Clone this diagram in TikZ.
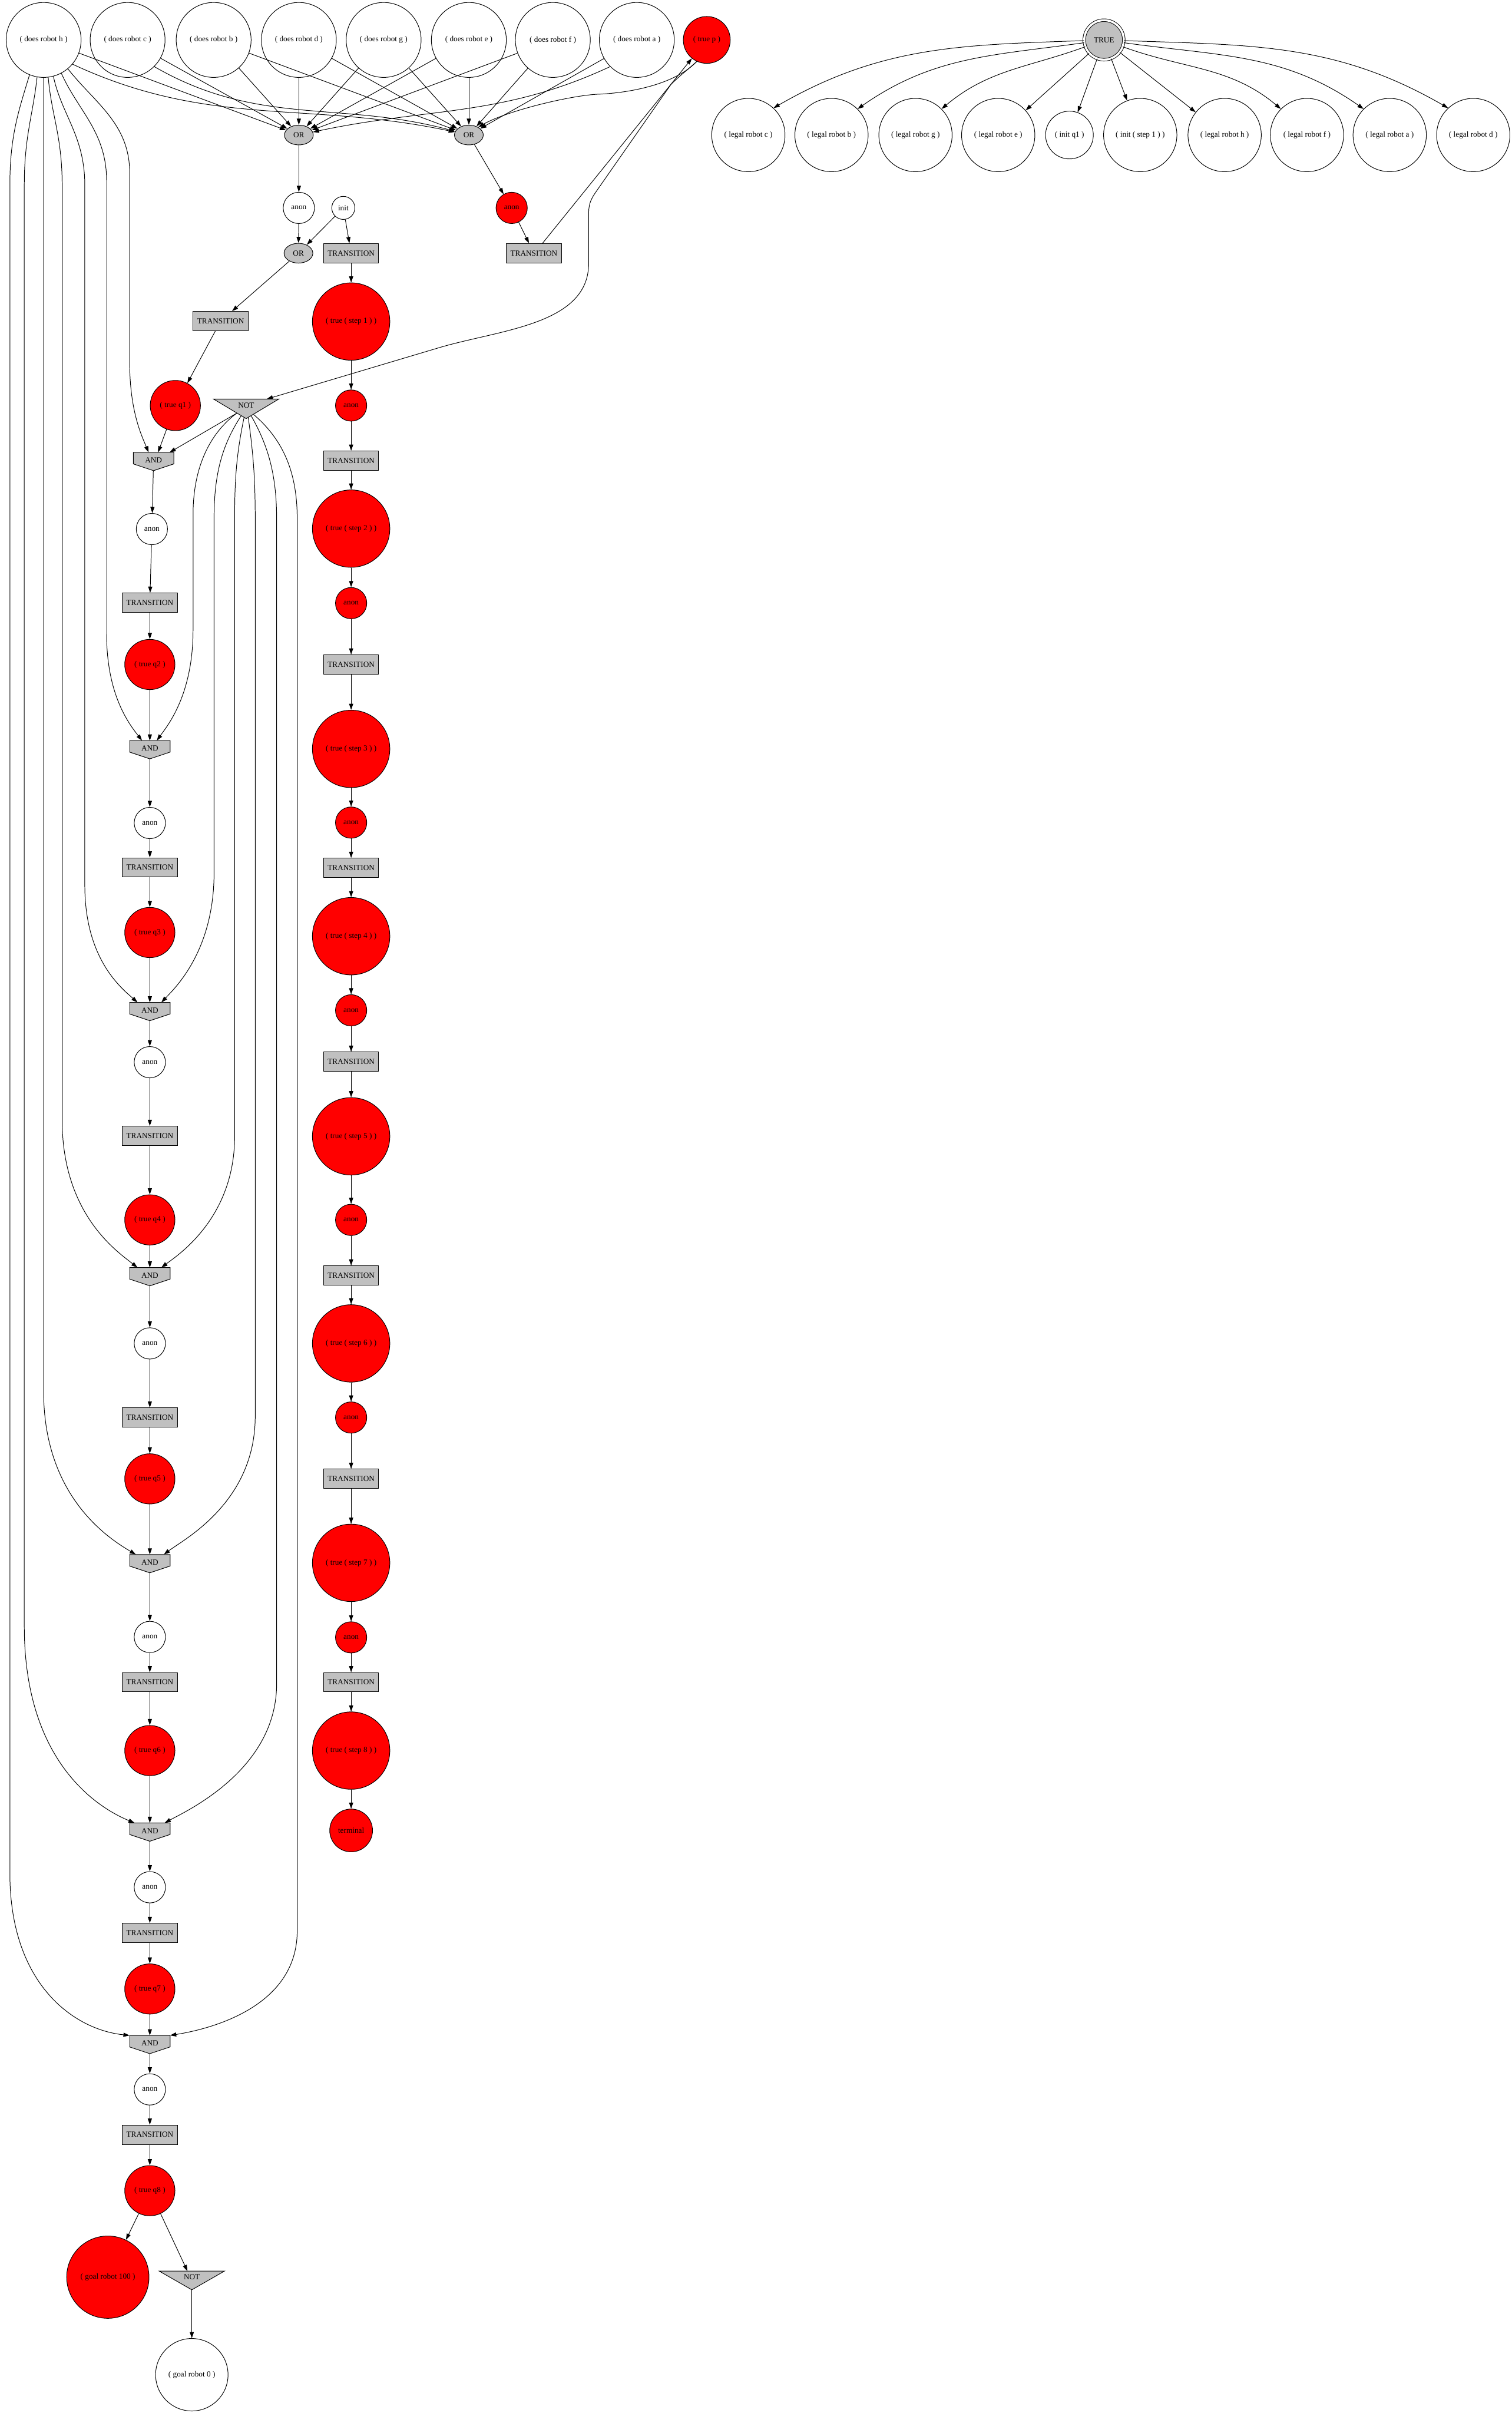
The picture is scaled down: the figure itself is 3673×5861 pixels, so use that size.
\documentclass[tikz,border=0pt]{standalone}
\usepackage{fontspec}
\setmainfont{Liberation Serif}
\usetikzlibrary{arrows.meta,calc,backgrounds,shapes.geometric}
\definecolor{gv}{RGB}{192,192,192}
\begin{document}
\begin{tikzpicture}[x=0.1mm,y=0.1mm, font=\fontsize{5.4}{6}\selectfont,
  nd/.style={draw, line width=0.4pt, inner sep=0pt},
  wc/.style={nd, circle, fill=white},
  rc/.style={nd, circle, fill=red},
  doesn/.style={wc, minimum size=18.2mm},
  legaln/.style={wc, minimum size=17.8mm},
  stepn/.style={rc, minimum size=18.8mm},
  qnode/.style={rc, minimum size=12.2mm},
  anonw/.style={wc, minimum size=7.6mm},
  anonr/.style={rc, minimum size=7.6mm},
  orn/.style={nd, ellipse, fill=gv, minimum width=7mm, minimum height=4.8mm},
  transn/.style={nd, rectangle, fill=gv, minimum width=13.4mm, minimum height=4.7mm},
  andn/.style={rectangle, inner sep=0pt, minimum width=9.7mm, minimum height=4.3mm},
  notn/.style={rectangle, inner sep=0pt, minimum width=15.7mm, minimum height=4.6mm},
  conn/.style={draw, line width=0.4pt, -{Triangle[length=1.5mm,width=1mm]}},
]
\useasboundingbox (0,0) rectangle (3673,-5861);

% top row
\node[doesn] (dh) at (106,-97) {( does robot h )};
\node[doesn] (dc) at (310,-97) {( does robot c )};
\node[doesn] (db) at (519,-97) {( does robot b )};
\node[doesn] (dd) at (726,-97) {( does robot d )};
\node[doesn] (dg) at (932,-97) {( does robot g )};
\node[doesn] (de) at (1139,-97) {( does robot e )};
\node[doesn] (df) at (1343,-97) {( does robot f )};
\node[doesn] (da) at (1547,-97) {( does robot a )};
\node[rc, minimum size=11.4mm] (truep) at (1717,-97) {( true p )};
\node[nd, circle, fill=gv, minimum size=9.6mm, double, double distance=0.5mm] (TRUE) at (2682,-97) {TRUE};

% legal row
\node[legaln] (lc) at (1818,-328) {( legal robot c )};
\node[legaln] (lb) at (2020,-328) {( legal robot b )};
\node[legaln] (lg) at (2224,-328) {( legal robot g )};
\node[legaln] (le) at (2425,-328) {( legal robot e )};
\node[wc, minimum size=11.6mm] (iq1) at (2598,-328) {( init q1 )};
\node[legaln] (is1) at (2770,-328) {( init ( step 1 ) )};
\node[legaln] (lh) at (2975,-328) {( legal robot h )};
\node[legaln] (lf) at (3175,-328) {( legal robot f )};
\node[legaln] (la) at (3376,-328) {( legal robot a )};
\node[legaln] (ld) at (3579,-328) {( legal robot d )};

% OR area
\node[orn] (OR1) at (726,-328) {OR};
\node[orn] (OR2) at (1139,-328) {OR};
\node[anonw] (aW0) at (726,-505) {anon};
\node[wc, minimum size=5.6mm] (init) at (834,-505) {init};
\node[anonr] (aR0) at (1243,-505) {anon};
\node[orn] (OR3) at (725,-615) {OR};
\node[transn] (Tinit) at (853,-615) {TRANSITION};
\node[transn] (TR) at (1297,-615) {TRANSITION};
\node[transn] (T0) at (536,-780) {TRANSITION};
\node[stepn] (step1) at (853,-781) {( true ( step 1 ) )};
\node[qnode] (q1) at (426,-985) {( true q1 )};
\node[notn] (NOT1) at (598,-993) {\raisebox{0.9mm}[\height][\depth]{NOT}};

% right chain
\node[anonr] (aS1) at (853,-985) {anon};
\node[transn] (TS1) at (853,-1119) {TRANSITION};
\node[stepn] (step2) at (853,-1284) {( true ( step 2 ) )};
\node[anonr] (aS2) at (853,-1465) {anon};
\node[transn] (TS2) at (853,-1614) {TRANSITION};
\node[stepn] (step3) at (853,-1819) {( true ( step 3 ) )};
\node[anonr] (aS3) at (853,-1998) {anon};
\node[transn] (TS3) at (853,-2108) {TRANSITION};
\node[stepn] (step4) at (853,-2274) {( true ( step 4 ) )};
\node[anonr] (aS4) at (853,-2454) {anon};
\node[transn] (TS4) at (853,-2579) {TRANSITION};
\node[stepn] (step5) at (853,-2760) {( true ( step 5 ) )};
\node[anonr] (aS5) at (853,-2963) {anon};
\node[transn] (TS5) at (853,-3098) {TRANSITION};
\node[stepn] (step6) at (853,-3263) {( true ( step 6 ) )};
\node[anonr] (aS6) at (853,-3443) {anon};
\node[transn] (TS6) at (853,-3592) {TRANSITION};
\node[stepn] (step7) at (853,-3796) {( true ( step 7 ) )};
\node[anonr] (aS7) at (853,-3977) {anon};
\node[transn] (TS7) at (853,-4086) {TRANSITION};
\node[stepn] (step8) at (853,-4252) {( true ( step 8 ) )};
\node[rc, minimum size=10.4mm] (term) at (853,-4446) {terminal};

% left chain
\node[andn] (AND1) at (373,-1121) {\raisebox{0.3mm}[\height][\depth]{AND}};
\node[anonw] (aL1) at (369,-1285) {anon};
\node[transn] (TL1) at (364,-1464) {TRANSITION};
\node[qnode] (q2) at (364,-1614) {( true q2 )};
\node[andn] (AND2) at (364,-1821) {\raisebox{0.3mm}[\height][\depth]{AND}};
\node[anonw] (aL2) at (364,-1999) {anon};
\node[transn] (TL2) at (364,-2107) {TRANSITION};
\node[qnode] (q3) at (364,-2265) {( true q3 )};
\node[andn] (AND3) at (364,-2457) {\raisebox{0.3mm}[\height][\depth]{AND}};
\node[anonw] (aL3) at (364,-2580) {anon};
\node[transn] (TL3) at (364,-2759) {TRANSITION};
\node[qnode] (q4) at (364,-2963) {( true q4 )};
\node[andn] (AND4) at (364,-3101) {\raisebox{0.3mm}[\height][\depth]{AND}};
\node[anonw] (aL4) at (364,-3263) {anon};
\node[transn] (TL4) at (364,-3443) {TRANSITION};
\node[qnode] (q5) at (364,-3592) {( true q5 )};
\node[andn] (AND5) at (364,-3798) {\raisebox{0.3mm}[\height][\depth]{AND}};
\node[anonw] (aL5) at (364,-3976) {anon};
\node[transn] (TL5) at (364,-4086) {TRANSITION};
\node[qnode] (q6) at (364,-4252) {( true q6 )};
\node[andn] (AND6) at (364,-4450) {\raisebox{0.3mm}[\height][\depth]{AND}};
\node[anonw] (aL6) at (364,-4584) {anon};
\node[transn] (TL6) at (364,-4695) {TRANSITION};
\node[qnode] (q7) at (364,-4831) {( true q7 )};
\node[andn] (AND7) at (364,-4966) {\raisebox{0.3mm}[\height][\depth]{AND}};
\node[anonw] (aL7) at (364,-5075) {anon};
\node[transn] (TL7) at (364,-5185) {TRANSITION};
\node[qnode] (q8) at (364,-5321) {( true q8 )};
\node[rc, minimum size=20mm] (goal100) at (262,-5531) {( goal robot 100 )};
\node[notn, minimum height=4.4mm] (NOT2) at (466,-5539) {\raisebox{0.8mm}[\height][\depth]{NOT}};
\node[wc, minimum size=17.6mm] (goal0) at (466,-5768) {( goal robot 0 )};

% background shapes for AND / NOT
\begin{scope}[on background layer]
  \fill[white] (0,0) rectangle (3673,-5861);
  \foreach \n in {AND1,AND2,AND3,AND4,AND5,AND6,AND7}
    \filldraw[fill=gv, line width=0.4pt] (\n.north west) -- (\n.north east) -- ($(\n.north east)+(0,-28)$) -- (\n.south) -- ($(\n.north west)+(0,-28)$) -- cycle;
  \foreach \n in {NOT1,NOT2}
    \filldraw[fill=gv, line width=0.4pt] (\n.north west) -- (\n.north east) -- (\n.south) -- cycle;
\end{scope}

% does -> OR
\foreach \d in {dh,dc,db,dd,dg,de,df} \draw[conn] (\d) -- (OR1);
\draw[conn] (da.-135) to[out=-155,in=12] (OR1);
\foreach \d in {db,dd,dg,de,df,da} \draw[conn] (\d) -- (OR2);
\draw[conn] (dh.-40) to[out=-25,in=168] (OR2);
\draw[conn] (dc.-45) to[out=-30,in=165] (OR2);
\draw[conn] (truep.-115) .. controls (1640,-205) and (1530,-226) .. (1450,-229) .. controls (1380,-233) and (1230,-270) .. (OR2.40);

% TRUE -> legal
\draw[conn] (TRUE.182) to[out=182,in=30] (lc.47);
\draw[conn] (TRUE.188) to[out=188,in=35] (lb.45);
\draw[conn] (TRUE.200) to[out=200,in=40] (lg.45);
\draw[conn] (TRUE) -- (le);
\draw[conn] (TRUE) -- (iq1);
\draw[conn] (TRUE) -- (is1);
\draw[conn] (TRUE) -- (lh);
\draw[conn] (TRUE.-20) to[out=-20,in=140] (lf.135);
\draw[conn] (TRUE.-8) to[out=-8,in=145] (la.135);
\draw[conn] (TRUE.-2) to[out=-2,in=150] (ld.133);

% OR area edges
\foreach \a/\b in {OR1/aW0, aW0/OR3, init/OR3, init/Tinit, OR3/T0, T0/q1, OR2/aR0, aR0/TR}
  \draw[conn] (\a) -- (\b);
\draw[conn] ($(TR.north)+(21,0)$) -- (truep);
\draw[conn] (truep.-115) .. controls (1670,-170) and (1650,-185) .. (1630,-205) -- (1445,-470)
  .. controls (1433,-488) and (1430,-500) .. (1430,-520) -- (1430,-640)
  .. controls (1430,-790) and (1211,-801) .. (1065,-845) -- ($(NOT1.north)+(50,0)$);

% chains
\foreach \a/\b in {Tinit/step1, step1/aS1, aS1/TS1, TS1/step2, step2/aS2, aS2/TS2, TS2/step3, step3/aS3, aS3/TS3, TS3/step4, step4/aS4, aS4/TS4, TS4/step5, step5/aS5, aS5/TS5, TS5/step6, step6/aS6, aS6/TS6, TS6/step7, step7/aS7, aS7/TS7, TS7/step8, step8/term}
  \draw[conn] (\a) -- (\b);
\foreach \a/\b in {AND1/aL1, aL1/TL1, TL1/q2, q2/AND2, AND2/aL2, aL2/TL2, TL2/q3, q3/AND3, AND3/aL3, aL3/TL3, TL3/q4, q4/AND4, AND4/aL4, aL4/TL4, TL4/q5, q5/AND5, AND5/aL5, aL5/TL5, TL5/q6, q6/AND6, AND6/aL6, aL6/TL6, TL6/q7, q7/AND7, AND7/aL7, aL7/TL7, TL7/q8, q8/goal100, q8/NOT2}
  \draw[conn] (\a) -- (\b);
\draw[conn] (NOT2.south) -- (goal0);
\draw[conn] (q1) -- ($(AND1.north)+(11,0)$);

% does robot h -> AND
\draw[conn] (dh.-50) .. controls (230,-250) and (315,-300) .. (315,-420) -- (315,-880) .. controls (315,-1000) and (345,-1060) .. ($(AND1.north)+(-12,0)$);
\draw[conn] (dh.-62) .. controls (190,-270) and (259,-320) .. (259,-440) -- (259,-1540) .. controls (259,-1690) and (315,-1760) .. ($(AND2.north)+(-19,0)$);
\draw[conn] (dh.-75) .. controls (150,-280) and (206,-330) .. (206,-450) -- (206,-2150) .. controls (206,-2330) and (295,-2400) .. ($(AND3.north)+(-30,0)$);
\draw[conn] (dh.-83) .. controls (125,-280) and (151,-330) .. (151,-450) -- (151,-2720) .. controls (151,-2950) and (285,-3040) .. ($(AND4.north)+(-30,0)$);
\draw[conn] (dh.south) -- (106,-3380) .. controls (106,-3640) and (270,-3740) .. ($(AND5.north)+(-34,0)$);
\draw[conn] (dh.-100) .. controls (80,-280) and (59,-330) .. (59,-450) -- (59,-3950) .. controls (59,-4300) and (260,-4400) .. ($(AND6.north)+(-37,0)$);
\draw[conn] (dh.-112) .. controls (45,-270) and (24,-330) .. (24,-450) -- (24,-4550) .. controls (24,-4820) and (180,-4930) .. (AND7.north west);

% NOT -> AND
\draw[conn] ($(NOT1.south)+(-23,13)$) -- ($(AND1.north)+(39,0)$);
\draw[conn] ($(NOT1.south)+(-23,13)$) .. controls (500,-1060) and (469,-1150) .. (469,-1250) -- (469,-1530) .. controls (469,-1690) and (405,-1765) .. ($(AND2.north)+(17,0)$);
\draw[conn] ($(NOT1.south)+(-12,7)$) .. controls (540,-1080) and (520,-1150) .. (520,-1260) -- (520,-2120) .. controls (520,-2310) and (425,-2400) .. ($(AND3.north)+(28,0)$);
\draw[conn] ($(NOT1.south)+(-5,3)$) .. controls (575,-1100) and (570,-1160) .. (570,-1260) -- (570,-2760) .. controls (570,-2960) and (430,-3050) .. ($(AND4.north)+(28,0)$);
\draw[conn] ($(NOT1.south)+(5,3)$) .. controls (615,-1100) and (620,-1160) .. (620,-1260) -- (620,-3440) .. controls (620,-3650) and (445,-3740) .. ($(AND5.north)+(34,0)$);
\draw[conn] ($(NOT1.south)+(12,7)$) .. controls (650,-1080) and (672,-1150) .. (672,-1260) -- (672,-4090) .. controls (672,-4300) and (450,-4400) .. ($(AND6.north)+(36,0)$);
\draw[conn] ($(NOT1.south)+(18,10)$) .. controls (690,-1070) and (722,-1150) .. (722,-1260) -- (722,-4690) .. controls (722,-4880) and (500,-4930) .. (AND7.north east);
\end{tikzpicture}
\end{document}
